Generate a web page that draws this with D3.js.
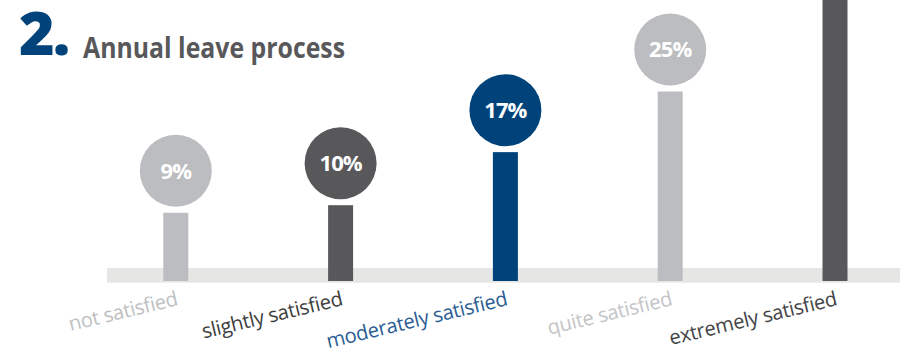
<!DOCTYPE html>
<html>
<head>
<meta charset="utf-8">
<script src="https://cdn.jsdelivr.net/npm/d3@7"></script>
<style>
  html, body { margin: 0; padding: 0; background: #fff; }
  svg { display: block; }
</style>
</head>
<body>
<svg id="chart" width="900" height="354"></svg>
<script>
// Survey answers: satisfaction with the annual leave process
const categories = ["not satisfied", "slightly satisfied", "moderately satisfied", "quite satisfied", "extremely satisfied"];
const values = [9, 10, 17, 25, 39];
const barColors = ["#BCBDC0", "#58585A", "#00437A", "#BCBDC0", "#58585A"];
const labelColors = ["#BEBFC2", "#3E3E40", "#2C5D94", "#C4C5C8", "#444446"];

const svg = d3.select("#chart");

const baseY = 281;
const pxPerPct = 7.58;
const y = d3.scaleLinear().domain([0, 40]).range([baseY, baseY - 40 * pxPerPct]);
const x = d3.scalePoint().domain(categories).range([175.8, 835]);
const barW = 25;
const r = 36;

// grey floor band
svg.append("rect")
  .attr("x", 107).attr("y", 268)
  .attr("width", 793).attr("height", 14.7)
  .attr("fill", "#E6E6E5");

const data = categories.map((c, i) => ({ c, v: values[i], col: barColors[i], lc: labelColors[i] }));

// stems
svg.selectAll("rect.bar").data(data).join("rect")
  .attr("class", "bar")
  .attr("x", d => x(d.c) - barW / 2)
  .attr("y", d => y(d.v))
  .attr("width", barW)
  .attr("height", d => baseY - y(d.v))
  .attr("fill", d => d.col);

// bubbles with percentages
const heads = svg.selectAll("g.head").data(data).join("g")
  .attr("class", "head")
  .attr("transform", d => `translate(${x(d.c)},${y(d.v) - 42})`);

heads.append("circle")
  .attr("r", r)
  .attr("fill", d => d.col);

heads.append("text")
  .attr("text-anchor", "middle")
  .attr("y", 7.8)
  .attr("fill", "#fff")
  .attr("font-family", "'Open Sans', sans-serif")
  .attr("font-weight", 700)
  .attr("font-size", 22)
  .attr("letter-spacing", -0.9)
  .text(d => d.v + "%");

// slanted category labels
svg.selectAll("text.cat").data(data).join("text")
  .attr("class", "cat")
  .attr("text-anchor", "end")
  .attr("transform", d => `translate(${x(d.c) + 3},305) rotate(-13.5)`)
  .attr("fill", d => d.lc)
  .attr("font-family", "'Open Sans', sans-serif")
  .attr("font-size", 20.2)
  .attr("letter-spacing", -0.3)
  .text(d => d.c);

// heading
svg.append("text")
  .attr("x", 19).attr("y", 55)
  .attr("fill", "#00437A")
  .attr("font-family", "'Open Sans', sans-serif")
  .attr("font-weight", 800)
  .attr("font-size", 61)
  .attr("letter-spacing", -2)
  .text("2.");

svg.append("text")
  .attr("x", 83).attr("y", 58)
  .attr("fill", "#58585A")
  .attr("font-family", "'Open Sans', sans-serif")
  .attr("font-weight", 700)
  .attr("font-size", 29)
  .attr("textLength", 262)
  .attr("lengthAdjust", "spacingAndGlyphs")
  .text("Annual leave process");
</script>
</body>
</html>
